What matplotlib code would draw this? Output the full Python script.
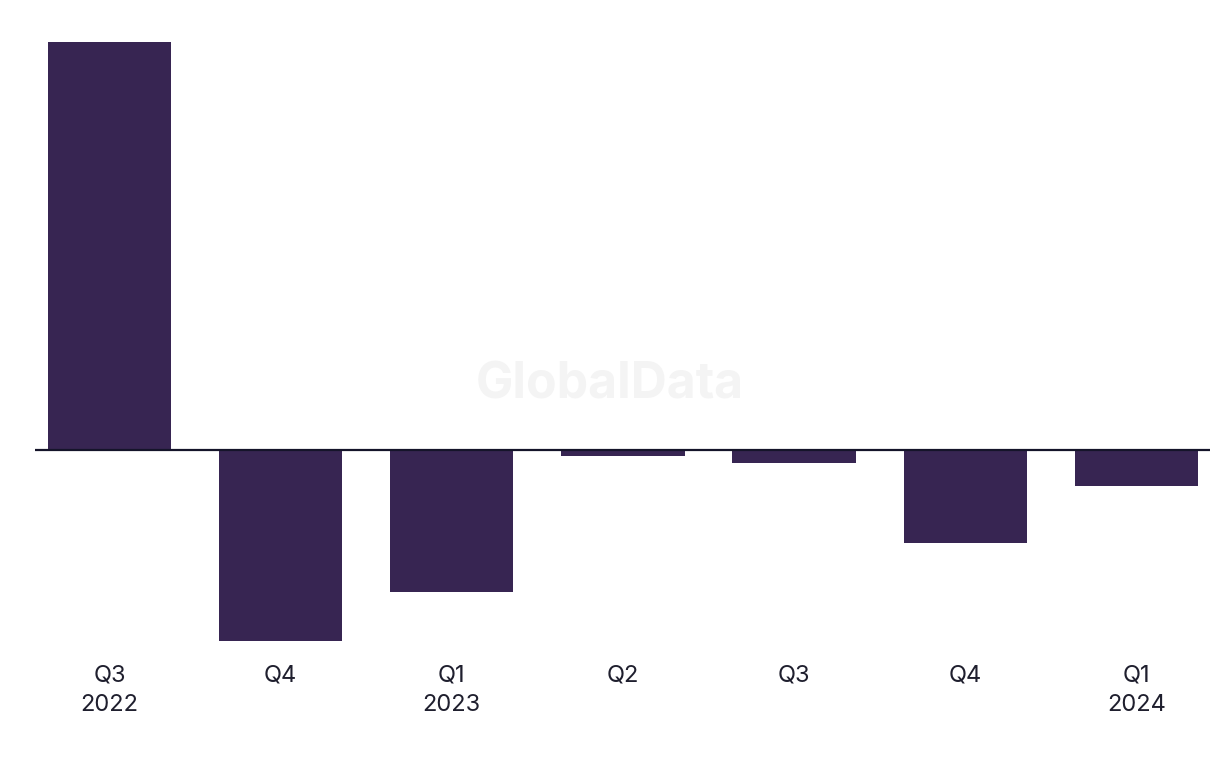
import matplotlib.pyplot as plt

# quarterly change (arbitrary units)
quarters = ['Q3\n2022', 'Q4', 'Q1\n2023', 'Q2', 'Q3', 'Q4', 'Q1\n2024']
values = [40.8, -19.1, -14.2, -0.6, -1.3, -9.3, -3.6]

bar_color = '#372552'

plt.rcParams['font.family'] = ['Inter', 'DejaVu Sans']

fig = plt.figure(figsize=(12.2, 7.68), dpi=100)
ax = fig.add_axes([35 / 1220, 127 / 768, 1175 / 1220, 599 / 768])

x = list(range(len(quarters)))
ax.bar(x, values, width=0.72, color=bar_color, zorder=2)
ax.axhline(0, color='#15142a', linewidth=1.6, zorder=3)

ax.set_xlim(-0.435, 6.43)
ax.set_ylim(-19.1, 40.8)

ax.set_xticks(x)
ax.set_xticklabels(quarters, fontsize=17, color='#1f1f2e', linespacing=1.42)
ax.tick_params(axis='x', length=0, pad=17)
ax.set_yticks([])
for s in ax.spines.values():
    s.set_visible(False)

# watermark
fig.text(610 / 1220, 1 - 385 / 768, 'GlobalData', fontsize=36, fontweight='bold',
         color='#f4f4f4', ha='center', va='center', zorder=0)

fig.savefig('out.png', dpi=100)
